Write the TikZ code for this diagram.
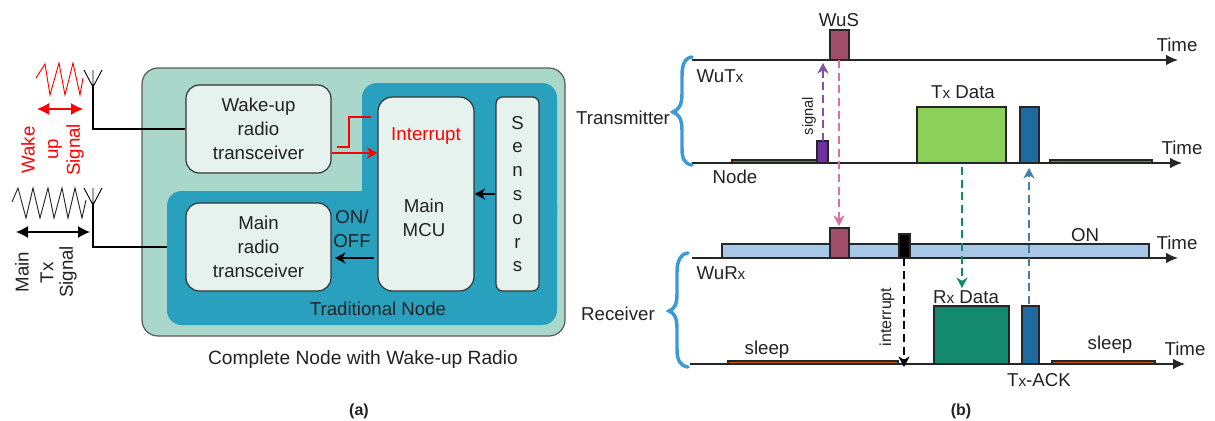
\documentclass[tikz,border=0pt]{standalone}
\usepackage{fontspec}
\setmainfont{Liberation Sans}
\usetikzlibrary{arrows.meta}
\definecolor{panelgreen}{HTML}{A9D8CA}
\definecolor{tradblue}{HTML}{2AA0BF}
\definecolor{boxpale}{HTML}{E6F2EE}
\definecolor{wuscol}{HTML}{A04D6A}
\definecolor{sigcol}{HTML}{7030A0}
\definecolor{barcol}{HTML}{C55A11}
\definecolor{txcol}{HTML}{8CD05A}
\definecolor{ackcol}{HTML}{1F6AA0}
\definecolor{rxcol}{HTML}{138A6E}
\definecolor{oncol}{HTML}{A9C8E8}
\definecolor{bracecol}{HTML}{3A9AD9}
\definecolor{pinkcol}{HTML}{E0709A}
\definecolor{inkcol}{HTML}{222222}
\newcommand{\smx}[1]{{\fontsize{11.5}{13}\selectfont #1}}
\tikzset{
    every node/.style={font=\fontsize{14}{17.85}\selectfont, text=inkcol},
    radiobox/.style={draw=black!80, line width=0.9pt, fill=boxpale, rounded corners=10pt, align=center, inner sep=0pt, minimum width=108.75pt, minimum height=66pt},
    tallbox/.style={draw=black!80, line width=0.9pt, fill=boxpale, rounded corners=11pt, align=center, inner sep=0pt, minimum height=145.5pt},
    pulse/.style={draw=black!85, line width=0.9pt},
    timeaxis/.style={draw=black!85, line width=1pt, -{Latex[length=9pt,width=8pt]}},
    flow/.style={line width=1pt, -{Stealth[length=8pt,width=8.5pt]}},
    dashflow/.style={line width=0.9pt, dash pattern=on 6pt off 3.5pt, -{Stealth[length=8pt,width=8.5pt]}},
    bracecurve/.style={draw=bracecol, line width=2.6pt, line cap=round}
}
\begin{document}
\begin{tikzpicture}[x=0.75pt,y=-0.75pt]
    \useasboundingbox (0,0) rectangle (1215,421);

    % panels
    \filldraw[fill=panelgreen, draw=black!65, line width=0.9pt, rounded corners=12pt] (142,68) rectangle (565,336);
    \fill[tradblue, rounded corners=11pt] (362,83) rectangle (557,230);
    \fill[tradblue, rounded corners=11pt] (167,191) rectangle (557,325);

    \node[radiobox] (wakeup) at (258.5,129) {Wake-up\\radio\\transceiver};
    \node[radiobox] (mainradio) at (258.5,247) {Main\\radio\\transceiver};
    \node[tallbox, minimum width=72pt] (mcu) at (426,194) {};
    \node[tallbox, minimum width=32.25pt, rounded corners=5pt] (sensors) at (517.5,194) {S\\e\\n\\s\\o\\r\\s};
    \node[text=red] (interrupt) at (426,136) {Interrupt};
    \node[align=center] (mainmcu) at (424,218) {Main\\MCU};
    \node[align=center] (onoff) at (352,228.5) {ON/\\OFF};
    \node (tradlabel) at (378,309) {Traditional Node};
    \node[font=\fontsize{14.4}{17.85}\selectfont] (completelabel) at (363,360) {Complete Node with Wake-up Radio};
    \node[font=\fontsize{12}{14}\selectfont\bfseries] (alabel) at (359,411) {(a)};
    \node[font=\fontsize{12}{14}\selectfont\bfseries] (blabel) at (961,411) {(b)};

    % links inside the node
    \coordinate (irq) at (355,153);
    \coordinate (onoffA) at (374,258);
    \coordinate (onoffB) at (335,258);
    \draw[flow, red] (wakeup.east |- irq) -- (mcu.west |- irq);
    \draw[red, line width=1pt] (337,147) -- (349,147) -- (349,117) -- (371,117);
    \draw[flow] (sensors.west) -- (mcu.east);
    \draw[flow] (onoffA) -- (onoffB);

    % antennas
    \coordinate (antA) at (93,87);
    \coordinate (antAcorner) at (93,129);
    \coordinate (antB) at (93,205);
    \coordinate (antBcorner) at (93,247);
    \coordinate (tradedge) at (167,247);
    \draw[line width=0.9pt] (antA) -- (antAcorner) -- (wakeup.west);
    \draw[line width=0.9pt] (antB) -- (antBcorner) -- (tradedge);
    \draw[line width=0.7pt] (84,70) -- (antA) -- (102,70) (93,70) -- (antA);
    \draw[line width=0.7pt] (84,188) -- (antB) -- (102,188) (93,188) -- (antB);

    % signals
    \draw[red, line width=0.7pt] (36,78) -- (45,64) -- (50,95) -- (59,63) -- (65,95) -- (73,63) -- (80,95) -- (83,78);
    \draw[black!85, line width=0.7pt] (12,202) -- (18,188) -- (26,218) -- (33,188) -- (40,218) -- (48,188) -- (54,218) -- (62,188) -- (68,218) -- (75,188) -- (82,218) -- (86,200);
    \coordinate (redL) at (37,109);
    \coordinate (redR) at (83,109);
    \coordinate (blackL) at (16,232);
    \coordinate (blackR) at (90,232);
    \draw[line width=1pt, red, {Latex[length=9pt,width=9pt]}-{Latex[length=9pt,width=9pt]}] (redL) -- (redR);
    \draw[line width=1pt, {Latex[length=9pt,width=9pt]}-{Latex[length=9pt,width=9pt]}] (blackL) -- (blackR);
    \node[rotate=90, text=red] (wakelabel) at (28,150) {Wake};
    \node[rotate=90, text=red] (uplabel) at (55,149) {up};
    \node[rotate=90, text=red] (signalA) at (75,150) {Signal};
    \node[rotate=90] (mainlabel) at (22,272) {Main};
    \node[rotate=90] (txlabel) at (47,273) {Tx};
    \node[rotate=90] (signalB) at (68,272) {Signal};

    % time axes
    \coordinate (axisAs) at (692,60);
    \coordinate (axisAe) at (1178,60);
    \coordinate (axisBs) at (692,163);
    \coordinate (axisBe) at (1182,163);
    \coordinate (axisCs) at (692,258);
    \coordinate (axisCe) at (1178,258);
    \coordinate (axisDs) at (690,364);
    \coordinate (axisDe) at (1185,364);
    \draw[timeaxis] (axisAs) -- (axisAe);
    \draw[timeaxis] (axisBs) -- (axisBe);
    \draw[timeaxis] (axisCs) -- (axisCe);
    \draw[timeaxis] (axisDs) -- (axisDe);

    % pulses
    \filldraw[pulse, fill=wuscol] (830,30) rectangle (849,60);
    \filldraw[pulse, fill=sigcol] (817,141) rectangle (828,163);
    \filldraw[pulse, fill=barcol] (732,160) rectangle (817,163);
    \filldraw[pulse, fill=txcol] (917,107) rectangle (1006,163);
    \filldraw[pulse, fill=ackcol] (1020,107) rectangle (1039,163);
    \filldraw[pulse, fill=barcol] (1050,160) rectangle (1152,163);
    \filldraw[pulse, fill=oncol] (722,244) rectangle (1149,258);
    \filldraw[pulse, fill=wuscol] (830,228) rectangle (849,258);
    \filldraw[pulse, fill=black] (899,234) rectangle (910,258);
    \filldraw[pulse, fill=barcol] (728,361) rectangle (898,364);
    \filldraw[pulse, fill=rxcol] (934,306) rectangle (1009,364);
    \filldraw[pulse, fill=ackcol] (1022,306) rectangle (1039,364);
    \filldraw[pulse, fill=barcol] (1052,361) rectangle (1155,364);

    % dashed links between the axes
    \coordinate (sigS) at (823,141);
    \coordinate (sigE) at (823,63);
    \coordinate (wusS) at (839,60);
    \coordinate (wusE) at (839,226);
    \coordinate (dataS) at (962,167);
    \coordinate (dataE) at (962,288);
    \coordinate (ackS) at (1029,304);
    \coordinate (ackE) at (1029,168);
    \coordinate (intS) at (904,258);
    \coordinate (intE) at (904,367);
    \draw[dashflow, sigcol!85] (sigS) -- (sigE);
    \draw[dashflow, pinkcol] (wusS) -- (wusE);
    \draw[dashflow, rxcol] (dataS) -- (dataE);
    \draw[dashflow, ackcol!85] (ackS) -- (ackE);
    \draw[dashflow, black] (intS) -- (intE);

    % braces
    \draw[bracecurve] (692,57) .. controls (684,58) and (682,66) .. (682,76) -- (682,94) .. controls (682,106) and (678,110) .. (673,112) .. controls (678,114) and (682,118) .. (682,130) -- (682,148) .. controls (682,158) and (684,164) .. (692,165);
    \draw[bracecurve] (688,253) .. controls (680,254) and (677,262) .. (677,272) -- (677,294) .. controls (677,305) and (674,309) .. (669,311) .. controls (674,313) and (677,317) .. (677,328) -- (677,349) .. controls (677,360) and (680,366) .. (688,367);

    % labels of the timing part
    \node (wuslabel) at (839,20) {WuS};
    \node (timeA) at (1177,45) {Time};
    \node (wutxlabel) at (720,76) {WuT\smx{x}};
    \node (transmitter) at (623,118) {Transmitter};
    \node[rotate=90, font=\fontsize{11}{13}\selectfont] (signallabel) at (809,116) {signal};
    \node (txdata) at (963,92) {T\smx{x} Data};
    \node (timeB) at (1182,148) {Time};
    \node (nodelabel) at (735,177) {Node};
    \node (onlabel) at (1085,235) {ON};
    \node (timeC) at (1177,243) {Time};
    \node (wurxlabel) at (721,273) {WuR\smx{x}};
    \node (rxdata) at (966,297) {R\smx{x} Data};
    \node (receiver) at (618,314) {Receiver};
    \node[rotate=90, font=\fontsize{12}{14}\selectfont] (interruptlabel) at (887,317) {interrupt};
    \node (sleepA) at (767,350) {sleep};
    \node (sleepB) at (1110,345) {sleep};
    \node (timeD) at (1185,349) {Time};
    \node (txack) at (1039,380) {T\smx{x}-ACK};
\end{tikzpicture}
\end{document}
